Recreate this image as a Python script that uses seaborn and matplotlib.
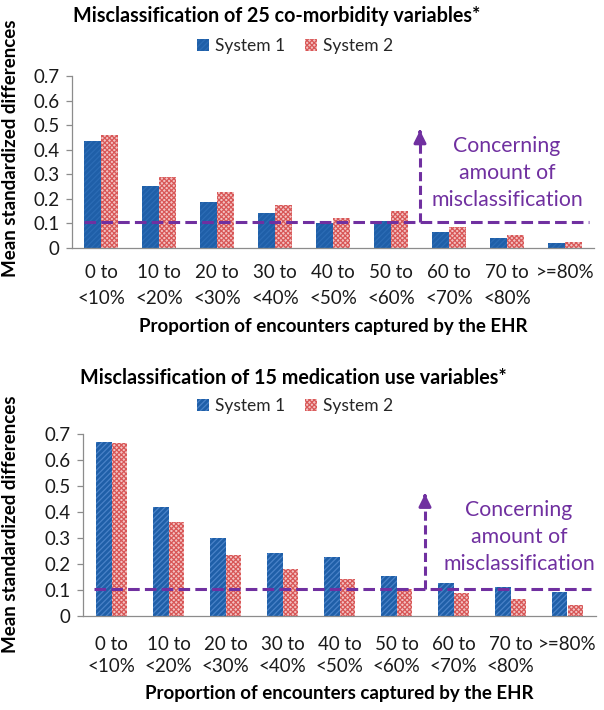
import matplotlib
matplotlib.use("Agg")
import matplotlib.pyplot as plt
import seaborn as sns
import pandas as pd
from matplotlib.patches import Patch

categories = ["0 to\n<10%", "10 to\n<20%", "20 to\n<30%", "30 to\n<40%", "40 to\n<50%",
              "50 to\n<60%", "60 to\n<70%", "70 to\n<80%", ">=80%"]
series_names = ["System 1", "System 2"]

comorb_sys1 = [0.436, 0.254, 0.189, 0.143, 0.100, 0.110, 0.065, 0.041, 0.020]
comorb_sys2 = [0.461, 0.289, 0.229, 0.174, 0.124, 0.152, 0.087, 0.054, 0.024]

med_sys1 = [0.671, 0.419, 0.300, 0.243, 0.227, 0.152, 0.126, 0.110, 0.091]
med_sys2 = [0.666, 0.363, 0.234, 0.179, 0.143, 0.103, 0.088, 0.067, 0.043]

threshold = 0.105
arrow_top = [0.49, 0.48]

titles = ["Misclassification of 25 co-morbidity variables*",
          "Misclassification of 15 medication use variables*"]
ylabel = "Mean standardized differences"
xlabel = "Proportion of encounters captured by the EHR"
note = "Concerning\namount of\nmisclassification"
yticks = [0, 0.1, 0.2, 0.3, 0.4, 0.5, 0.6, 0.7]
ytick_labels = ["0", "0.1", "0.2", "0.3", "0.4", "0.5", "0.6", "0.7"]

sns.set_theme(style="white")
plt.rcParams["font.family"] = ["Lato", "DejaVu Sans"]
plt.rcParams["hatch.linewidth"] = 0.9

W, H = 604, 710
fig = plt.figure(figsize=(W / 100, H / 100), dpi=100)

purple = "#7030A0"
blue = "#1F5FA8"
pink_face = "#F3C2C2"
pink_edge = "#D85757"

def frac_box(x0, x1, ytop, ybot):
    return [x0 / W, 1 - ybot / H, (x1 - x0) / W, (ybot - ytop) / H]

panels = [
    dict(box=frac_box(72, 594, 76, 248), s1=comorb_sys1, s2=comorb_sys2, width=0.58,
         title_xy=(277, 16), legend_y=46, ylab_xy=(11, 148), xlab_y=326, tl_y=(273, 299),
         note_x=7.0, edge1="#2C6CB5", arrow_top=arrow_top[0]),
    dict(box=frac_box(83, 596, 434, 616), s1=med_sys1, s2=med_sys2, width=0.56,
         title_xy=(293, 378), legend_y=406, ylab_xy=(11, 524), xlab_y=693, tl_y=(644, 667),
         note_x=7.15, edge1="#4A82C8", arrow_top=arrow_top[1]),
]

for i, p in enumerate(panels):
    ax = fig.add_axes(p["box"])
    df = pd.DataFrame({
        "Category": categories * 2,
        "Series": [series_names[0]] * len(categories) + [series_names[1]] * len(categories),
        "Value": p["s1"] + p["s2"],
    })
    sns.barplot(data=df, x="Category", y="Value", hue="Series", order=categories,
                hue_order=series_names, palette=[blue, "white"], width=p["width"],
                ax=ax, legend=False, saturation=1)
    for bar in ax.containers[0]:
        bar.set_facecolor(blue)
        bar.set_edgecolor(p["edge1"])
        bar.set_hatch("//////")
        bar.set_linewidth(0)
    for bar in ax.containers[1]:
        bar.set_facecolor(pink_face)
        bar.set_edgecolor(pink_edge)
        bar.set_hatch("xxxxxxx")
        bar.set_linewidth(0)

    ax.set_xlim(-0.5, 8.5)
    ax.set_ylim(0, 0.7)
    ax.set_yticks(yticks)
    ax.set_yticklabels(ytick_labels, fontsize=13.5)
    ax.set_xticks(range(len(categories)))
    ax.set_xticklabels([])
    ax.set_xlabel("")
    ax.set_ylabel("")
    for s in ["top", "right"]:
        ax.spines[s].set_visible(False)
    for s in ["left", "bottom"]:
        ax.spines[s].set_color("#8C8C8C")
        ax.spines[s].set_linewidth(0.9)
    ax.tick_params(axis="y", which="major", length=4, width=0.9, color="#8C8C8C",
                   left=True, pad=5, labelcolor="#1a1a1a")
    ax.tick_params(axis="x", length=0)

    # category labels (two lines, Excel style)
    for k, c in enumerate(categories):
        lines = c.split("\n")
        xd = ax.transData.transform((k, 0))[0] / W
        fig.text(xd, 1 - p["tl_y"][0] / H, lines[0], ha="center", va="center",
                 fontsize=13.5, color="#1a1a1a")
        if len(lines) > 1:
            fig.text(xd, 1 - p["tl_y"][1] / H, lines[1], ha="center", va="center",
                     fontsize=13.5, color="#1a1a1a")

    # threshold line and arrow
    ax.hlines(threshold, -0.3, 8.42, colors=purple, linewidth=2.2,
              linestyles=(0, (3.8, 1.7)), zorder=5)
    ax.vlines(5.5, threshold, p["arrow_top"] - 0.02, colors=purple, linewidth=2.2,
              linestyles=(0, (3.0, 1.5)), zorder=5)
    ax.annotate("", xy=(5.5, p["arrow_top"]), xytext=(5.5, p["arrow_top"] - 0.03),
                arrowprops=dict(arrowstyle="-|>,head_length=0.6,head_width=0.3",
                                color=purple, lw=2.2), zorder=6)
    ax.text(p["note_x"], 0.305, note, ha="center", va="center", color=purple,
            fontsize=15.3, linespacing=1.45, zorder=6)

    fig.text(p["title_xy"][0] / W, 1 - p["title_xy"][1] / H, titles[i], ha="center",
             va="center", fontsize=14.2, fontweight="bold", color="black")
    fig.text(p["ylab_xy"][0] / W, 1 - p["ylab_xy"][1] / H, ylabel, ha="center",
             va="center", rotation=90, fontsize=13.5, fontweight="bold", color="black")
    xmid = (p["box"][0] + p["box"][2] / 2)
    fig.text(xmid, 1 - p["xlab_y"] / H, xlabel, ha="center", va="center",
             fontsize=13.5, fontweight="bold", color="black")

    handles = [
        Patch(facecolor=blue, edgecolor=p["edge1"], hatch="//////", linewidth=0,
              label=series_names[0]),
        Patch(facecolor=pink_face, edgecolor=pink_edge, hatch="xxxxxxx", linewidth=0,
              label=series_names[1]),
    ]
    fig.legend(handles=handles, loc="center", bbox_to_anchor=(295 / W, 1 - p["legend_y"] / H),
               ncol=2, frameon=False, fontsize=12.5, handlelength=0.7, handleheight=0.7,
               handletextpad=0.35, columnspacing=1.1, borderaxespad=0)

fig.savefig("out.png", dpi=100)
